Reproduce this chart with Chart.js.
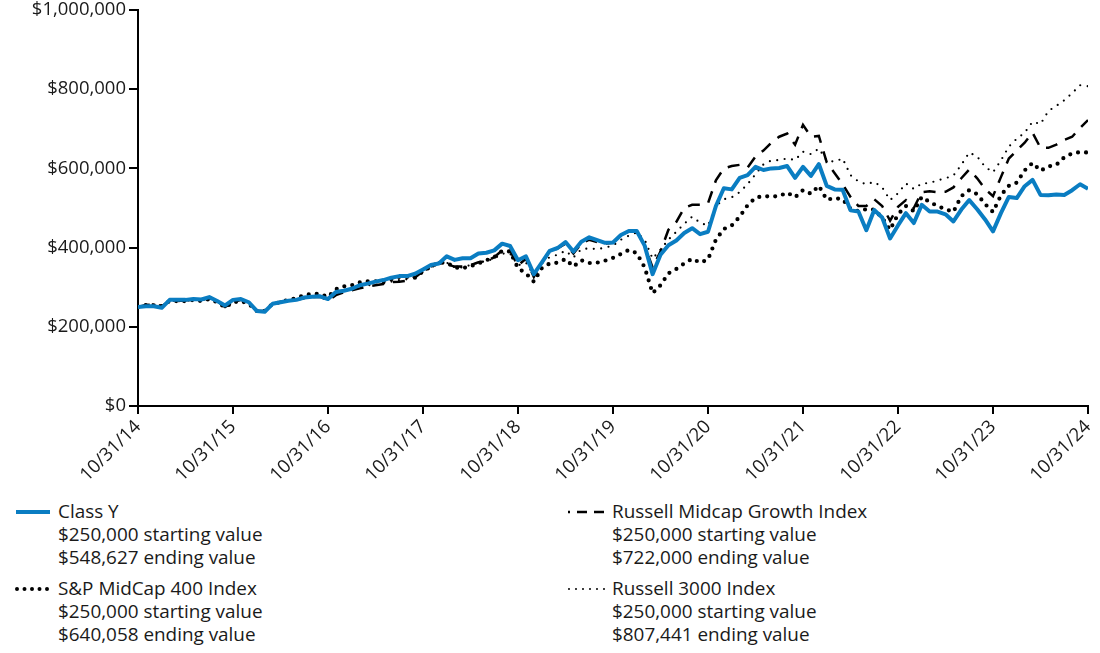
<!DOCTYPE html>
<html>
<head>
<meta charset="utf-8">
<script src="https://cdn.jsdelivr.net/npm/chart.js@4.4.1/dist/chart.umd.min.js"></script>
<style>
  html, body { margin: 0; padding: 0; background: #fff; }
  body { width: 1100px; height: 653px; position: relative; overflow: hidden; font-family: "Open Sans", sans-serif; color: #1a1a1a; }
  #wrap { position: absolute; left: 0; top: 0; width: 1100px; height: 490px; }
  .leg { position: absolute; font-size: 18.9px; line-height: 23px; white-space: nowrap; }
  .leg svg { position: absolute; left: 0; top: 0; }
  .leg .txt { position: absolute; top: 0; }
</style>
</head>
<body>
<div id="wrap"><canvas id="growthChart" width="1100" height="490"></canvas></div>

<div class="leg" style="left:14px; top:500px;">
  <svg width="40" height="24"><line x1="2" y1="12" x2="36" y2="12" stroke="#0a7dc2" stroke-width="4"/></svg>
  <div class="txt" style="left:44px;">Class Y<br>$250,000 starting value<br>$548,627 ending value</div>
</div>
<div class="leg" style="left:14px; top:577px;">
  <svg width="40" height="24"><line x1="3" y1="12" x2="36" y2="12" stroke="#000" stroke-width="4" stroke-linecap="round" stroke-dasharray="0 7.5"/></svg>
  <div class="txt" style="left:44px;">S&amp;P MidCap 400 Index<br>$250,000 starting value<br>$640,058 ending value</div>
</div>
<div class="leg" style="left:565px; top:500px;">
  <svg width="46" height="24"><line x1="3" y1="12" x2="43" y2="12" stroke="#000" stroke-width="2.5" stroke-dasharray="2 7 10 7 10 7"/></svg>
  <div class="txt" style="left:47px;">Russell Midcap Growth Index<br>$250,000 starting value<br>$722,000 ending value</div>
</div>
<div class="leg" style="left:565px; top:577px;">
  <svg width="46" height="24"><line x1="4" y1="12" x2="42" y2="12" stroke="#000" stroke-width="2" stroke-linecap="round" stroke-dasharray="0 7"/></svg>
  <div class="txt" style="left:47px;">Russell 3000 Index<br>$250,000 starting value<br>$807,441 ending value</div>
</div>

<script>
// month-end values, 10/31/14 .. 10/31/24 (in thousands of dollars)
const yearLabels = ['10/31/14', '10/31/15', '10/31/16', '10/31/17', '10/31/18', '10/31/19',
                    '10/31/20', '10/31/21', '10/31/22', '10/31/23', '10/31/24'];

const classY = [
  250, 252, 252, 248, 268, 268, 268, 270, 269, 275, 265, 254,
  268, 270, 262, 240, 238, 258, 262, 266, 268, 274, 276, 277,
  270, 288, 291, 296, 305, 309, 314, 318, 324, 328, 328, 334,
  345, 356, 360, 378, 369, 373, 373, 385, 387, 393, 410, 404,
  368, 378, 333, 362, 392, 399, 414, 390, 415, 426, 419, 412,
  413, 432, 442, 442, 405, 333, 382, 406, 418, 437, 449, 434,
  440, 505, 550, 547, 576, 583, 604, 596, 600, 601, 606, 576,
  604, 581, 611, 556, 547, 546, 494, 491, 444, 495, 476, 423,
  456, 487, 462, 508, 491, 491, 484, 466, 496, 520, 497, 471,
  441, 487, 528, 525, 555, 571, 533, 532, 534, 533, 545, 560,
  548.627
];

const spMidCap400 = [
  250, 255, 254, 252, 265, 265, 265, 268, 265, 270, 262, 249,
  262, 265, 258, 240, 240, 258, 262, 268, 272, 280, 283, 283,
  275, 295, 302, 305, 312, 315, 315, 314, 320, 326, 326, 324,
  340, 352, 362, 362, 350, 348, 353, 360, 368, 376, 392, 390,
  348, 335, 314, 348, 360, 362, 371, 352, 368, 361, 362, 367,
  374, 384, 394, 386, 350, 285, 305, 335, 346, 360, 372, 362,
  370, 420, 447, 456, 478, 507, 526, 530, 529, 530, 539, 527,
  545, 536, 556, 521, 525, 522, 498, 492, 497, 496, 475, 445,
  484, 505, 492, 528, 515, 505, 497, 490, 530, 545, 535, 510,
  490, 532, 556, 564, 595, 614, 594, 605, 609, 628, 638, 641,
  640.058
];

const russellMidcapGrowth = [
  250, 255, 256, 252, 265, 265, 267, 268, 268, 272, 265, 250,
  262, 268, 262, 240, 240, 258, 263, 266, 268, 272, 275, 276,
  266, 280, 287, 292, 297, 302, 305, 308, 313, 314, 316, 325,
  340, 352, 362, 358, 352, 352, 356, 363, 365, 376, 393, 392,
  355, 372, 326, 362, 390, 398, 410, 385, 410, 420, 414, 410,
  412, 432, 441, 442, 405, 350, 390, 445, 465, 500, 508, 508,
  512, 570, 600, 606, 609, 602, 630, 645, 665, 680, 688, 660,
  710, 680, 682, 615, 588, 560, 528, 505, 505, 522, 505, 468,
  503, 520, 500, 540, 542, 540, 541, 552, 575, 597, 575, 548,
  530, 578, 625, 645, 665, 690, 652, 652, 660, 672, 680, 702,
  722
];

const russell3000 = [
  250, 256, 257, 253, 265, 266, 266, 268, 268, 272, 265, 250,
  262, 268, 260, 240, 240, 257, 263, 267, 268, 272, 276, 278,
  272, 283, 290, 295, 302, 305, 306, 310, 314, 318, 320, 327,
  340, 350, 358, 362, 350, 350, 356, 362, 366, 372, 385, 385,
  355, 362, 330, 360, 376, 382, 392, 375, 396, 398, 396, 400,
  405, 420, 430, 438, 420, 372, 395, 420, 440, 460, 478, 463,
  455, 505, 522, 527, 540, 560, 585, 610, 620, 621, 625, 621,
  642, 636, 650, 620, 617, 625, 583, 567, 560, 566, 552, 520,
  537, 562, 548, 562, 563, 570, 575, 582, 609, 640, 630, 604,
  590, 620, 655, 675, 690, 718, 712, 745, 758, 772, 790, 810,
  807.441
];

const toPoints = arr => arr.map((v, i) => ({ x: i, y: v * 1000 }));

const ctx = document.getElementById('growthChart').getContext('2d');
const growthChart = new Chart(ctx, {
  type: 'line',
  data: {
    datasets: [
      {
        label: 'Class Y',
        data: toPoints(classY),
        borderColor: '#0a7dc2',
        borderWidth: 4,
        borderJoinStyle: 'round'
      },
      {
        label: 'S&P MidCap 400 Index',
        data: toPoints(spMidCap400),
        borderColor: '#000',
        borderWidth: 4.2,
        borderCapStyle: 'round',
        borderDash: [0, 8]
      },
      {
        label: 'Russell Midcap Growth Index',
        data: toPoints(russellMidcapGrowth),
        borderColor: '#000',
        borderWidth: 2.5,
        borderDash: [12, 9]
      },
      {
        label: 'Russell 3000 Index',
        data: toPoints(russell3000),
        borderColor: '#000',
        borderWidth: 2.2,
        borderCapStyle: 'round',
        borderDash: [0, 7.5]
      }
    ]
  },
  options: {
    responsive: false,
    animation: false,
    layout: { padding: { top: 10, right: 12, left: 0, bottom: 0 } },
    elements: { point: { radius: 0 }, line: { tension: 0, fill: false } },
    plugins: { legend: { display: false }, tooltip: { enabled: false } },
    scales: {
      x: {
        type: 'linear',
        min: 0,
        max: 120,
        afterFit: s => { s.height = 84; s.paddingLeft = 0; s.paddingRight = 0; },
        afterBuildTicks: s => { s.ticks = yearLabels.map((_, i) => ({ value: i * 12 })); },
        ticks: {
          autoSkip: false,
          maxRotation: 45,
          minRotation: 45,
          padding: 2,
          color: '#1a1a1a',
          font: { family: 'Open Sans', size: 18.5 },
          callback: v => yearLabels[v / 12]
        },
        grid: { drawOnChartArea: false, drawTicks: true, tickLength: 8, color: '#000', lineWidth: 2 },
        border: { color: '#000', width: 2 }
      },
      y: {
        min: 0,
        max: 1000000,
        afterFit: s => { s.width = 138; s.paddingTop = 0; s.paddingBottom = 0; },
        ticks: {
          stepSize: 200000,
          padding: 3,
          color: '#1a1a1a',
          font: { family: 'Open Sans', size: 18.5 },
          callback: v => '$' + v.toLocaleString('en-US')
        },
        grid: { drawOnChartArea: false, drawTicks: true, tickLength: 9, color: '#000', lineWidth: 2 },
        border: { color: '#000', width: 2 }
      }
    }
  }
});
</script>
</body>
</html>
